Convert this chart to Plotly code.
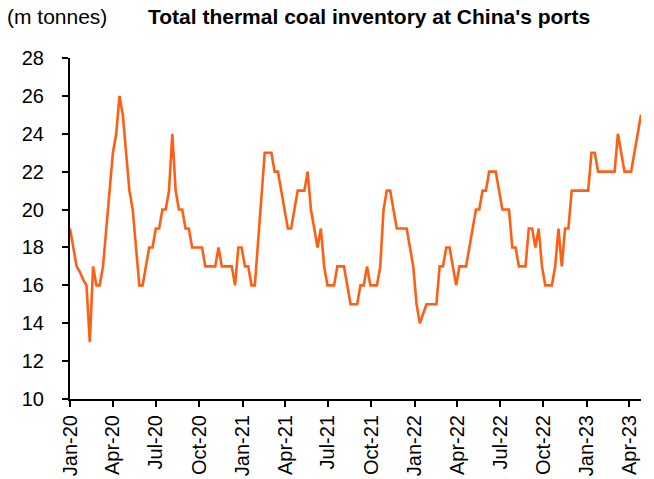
import datetime as dt
import plotly.graph_objects as go

# Weekly total thermal coal inventory at China's ports (million tonnes)
start_date = dt.date(2020, 1, 1)
inventory = [
    19, 18, 17, 16.7, 16.3, 16, 13, 17, 16, 16,
    17, 19, 21, 23, 24, 26, 25, 23, 21, 20,
    18, 16, 16, 17, 18, 18, 19, 19, 20, 20,
    21, 24, 21, 20, 20, 19, 19, 18, 18, 18,
    18, 17, 17, 17, 17, 18, 17, 17, 17, 17,
    16, 18, 18, 17, 17, 16, 16, 18.5, 21, 23,
    23, 23, 22, 22, 21, 20, 19, 19, 20, 21,
    21, 21, 22, 20, 19, 18, 19, 17, 16, 16,
    16, 17, 17, 17, 16, 15, 15, 15, 16, 16,
    17, 16, 16, 16, 17, 20, 21, 21, 20, 19,
    19, 19, 19, 18, 17, 15, 14, 14.5, 15, 15,
    15, 15, 17, 17, 18, 18, 17, 16, 17, 17,
    17, 18, 19, 20, 20, 21, 21, 22, 22, 22,
    21, 20, 20, 20, 18, 18, 17, 17, 17, 19,
    19, 18, 19, 17, 16, 16, 16, 17, 19, 17,
    19, 19, 21, 21, 21, 21, 21, 21, 23, 23,
    22, 22, 22, 22, 22, 22, 24, 23, 22, 22,
    22, 23, 24, 25,
]
dates = [start_date + dt.timedelta(weeks=i) for i in range(len(inventory))]

# Quarterly axis labels
tick_dates = [dt.date(y, m, 1) for y in (2020, 2021, 2022, 2023) for m in (1, 4, 7, 10)][:14]
tick_labels = [d.strftime("%b-%y") for d in tick_dates]
y_ticks = list(range(10, 29, 2))

font_family = "Liberation Sans, Arial, sans-serif"

fig = go.Figure(
    go.Scatter(
        x=dates,
        y=inventory,
        mode="lines",
        line=dict(color="#FF5F15", width=2.6),
        hoverinfo="x+y",
    )
)

fig.update_layout(
    width=654,
    height=479,
    margin=dict(l=70, r=13, t=58, b=80),
    paper_bgcolor="white",
    plot_bgcolor="white",
    showlegend=False,
    font=dict(family=font_family, size=20, color="black"),
    annotations=[
        dict(
            text="(m tonnes)",
            xref="paper", yref="paper",
            x=-0.113, y=1.122,
            xanchor="left", yanchor="middle",
            showarrow=False,
            font=dict(family=font_family, size=21, color="black"),
        ),
        dict(
            text="<b>Total thermal coal inventory at China's ports</b>",
            xref="paper", yref="paper",
            x=0.133, y=1.122,
            xanchor="left", yanchor="middle",
            showarrow=False,
            font=dict(family=font_family, size=21, color="black"),
        ),
    ],
)

fig.update_xaxes(
    type="date",
    range=[start_date, dates[-1]],
    automargin=False,
    tickmode="array",
    tickvals=tick_dates,
    ticktext=tick_labels,
    tickangle=-90,
    ticks="outside",
    ticklen=6,
    tickwidth=2,
    tickcolor="black",
    showline=True,
    linecolor="black",
    linewidth=2,
    showgrid=False,
    zeroline=False,
    tickfont=dict(family=font_family, size=20, color="black"),
)

fig.update_yaxes(
    range=[10, 28],
    automargin=False,
    tickmode="array",
    tickvals=y_ticks,
    ticks="outside",
    ticklen=6,
    tickwidth=2,
    tickcolor="black",
    showline=True,
    linecolor="black",
    linewidth=2,
    showgrid=False,
    zeroline=False,
    ticklabelstandoff=14,
    tickfont=dict(family=font_family, size=20, color="black"),
)

fig.write_html("out.html")
